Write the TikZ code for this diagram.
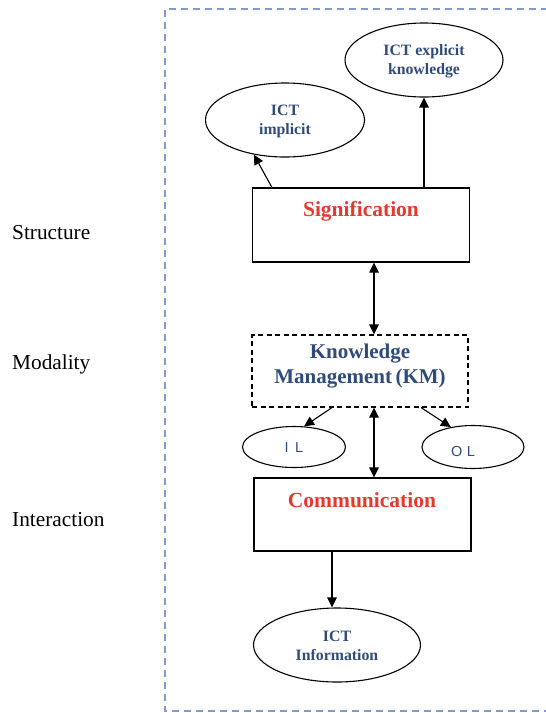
\documentclass[tikz,border=0pt]{standalone}
\usepackage{fontspec}
\setmainfont{Liberation Serif}
\newfontfamily\lsans{Liberation Sans}
\usetikzlibrary{arrows.meta,shapes.geometric}

\definecolor{kmblue}{HTML}{2F4B7E}
\definecolor{kmred}{HTML}{E5392D}
\definecolor{framecol}{HTML}{7D9BCF}

\tikzset{
  box/.style={draw, line width=1.1pt, rectangle, minimum width=217pt, inner sep=0pt},
  oval/.style={draw, line width=1.1pt, ellipse, inner sep=0pt},
  bluetxt/.style={text=kmblue, font=\bfseries\fontsize{15.8}{19}\selectfont, align=center},
  headtxt/.style={text=kmred, font=\bfseries\fontsize{21.5}{24}\selectfont},
  sidetxt/.style={font=\fontsize{21.3}{24}\selectfont, anchor=west, inner sep=0pt},
  smalltxt/.style={text=kmblue, font=\lsans\fontsize{14.5}{16}\selectfont},
  oneway/.style={line width=1.1pt, -{Triangle[length=10pt,width=9.5pt]}},
  twoway/.style={line width=1.1pt, {Triangle[length=10pt,width=9.5pt]}-{Triangle[length=10pt,width=9.5pt]}},
}

\begin{document}
\begin{tikzpicture}[x=1pt,y=-1pt]
\useasboundingbox (0,0) rectangle (546,713);

% outer dashed frame, open to the right
\draw[framecol, line width=1.3pt, dash pattern=on 7pt off 5pt]
  (560,9) -- (165,9) -- (165,711) -- (560,711);

% level labels
\node[sidetxt] (lstruct) at (12,233) {Structure};
\node[sidetxt] (lmod) at (12,364) {Modality};
\node[sidetxt] (linter) at (12,520) {Interaction};

% structure level
\node[box, minimum height=74pt] (sig) at (361,225) {};
\node[headtxt] (sigtxt) at (361,211) {Signification};
\node[oval, minimum width=159pt, minimum height=74pt] (imp) at (285,120) {};
\node[bluetxt] (imptxt) at (285,121) {ICT\\implicit};
\node[oval, minimum width=158pt, minimum height=74pt] (exp) at (424,60) {};
\node[bluetxt] (exptxt) at (424,61) {ICT explicit\\knowledge};

% modality level
\node[box, dashed, dash pattern=on 5pt off 3.5pt, minimum width=216pt, minimum height=72pt] (km) at (360,371) {};
\node[bluetxt, font=\bfseries\fontsize{21}{25}\selectfont] (kmtxt) at (360,366) {Knowledge\\Management\,(KM)};
\node[oval, minimum width=103pt, minimum height=41pt] (il) at (294,447) {};
\node[smalltxt] (iltxt) at (294,448) {I\hspace{0.45em}L};
\node[oval, minimum width=102pt, minimum height=43pt] (ol) at (473,447) {};
\node[smalltxt] (oltxt) at (463,452) {O\hspace{0.3em}L};

% interaction level
\node[box, minimum width=217pt, minimum height=73pt] (comm) at (362.5,514.5) {};
\node[headtxt] (commtxt) at (362,500) {Communication};
\node[oval, minimum width=167pt, minimum height=74pt] (info) at (337,645) {};
\node[bluetxt] (infotxt) at (337,646) {ICT\\Information};

% connectors
\draw[oneway] ([xshift=20pt]sig.north west) -- (imp.228);
\draw[oneway] (exp.south |- sig.north) -- (exp.south);
\draw[twoway] ([xshift=13pt]sig.south) -- ([xshift=14pt]km.north);
\draw[twoway] ([xshift=14pt]km.south) -- ([xshift=11.5pt]comm.north);
\draw[oneway] ([xshift=-28pt]km.south) -- (il.64);
\draw[oneway] ([xshift=61pt]km.south) -- (ol.138);
\draw[oneway] ([xshift=-30.5pt]comm.south) -- ([xshift=-30.5pt]comm.south |- info.north);
\end{tikzpicture}
\end{document}
